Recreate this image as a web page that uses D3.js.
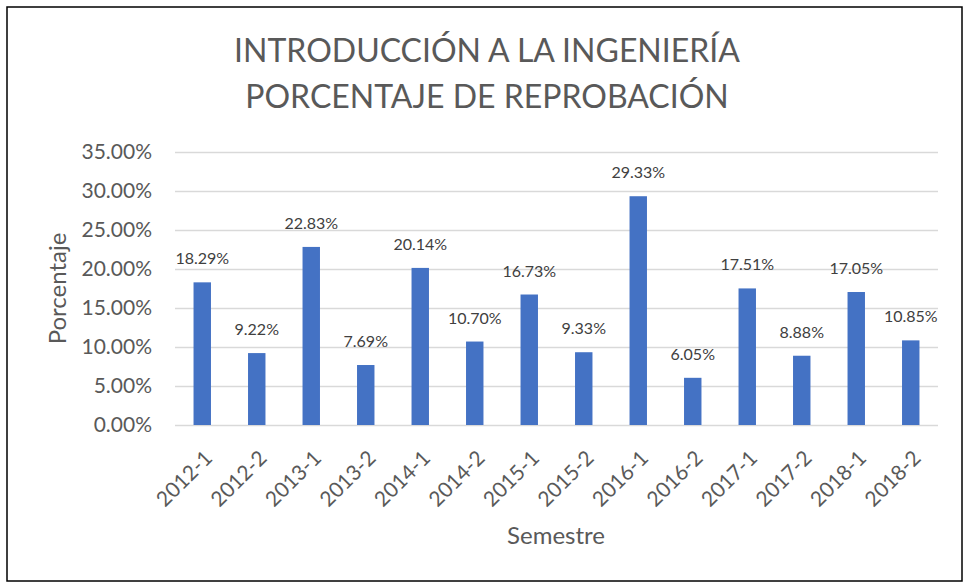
<!DOCTYPE html>
<html>
<head>
<meta charset="utf-8">
<script src="https://cdn.jsdelivr.net/npm/d3@7"></script>
<style>
  html, body { margin: 0; padding: 0; background: #fff; }
  svg { display: block; font-family: Lato, "Open Sans", sans-serif; }
</style>
</head>
<body>
<div id="chart"></div>
<script>
// semesters and failure rate (%)
const semesters = ["2012-1", "2012-2", "2013-1", "2013-2", "2014-1", "2014-2", "2015-1",
  "2015-2", "2016-1", "2016-2", "2017-1", "2017-2", "2018-1", "2018-2"];
const rates = [18.29, 9.22, 22.83, 7.69, 20.14, 10.70, 16.73, 9.33, 29.33, 6.05, 17.51, 8.88, 17.05, 10.85];
const yTicks = [0, 5, 10, 15, 20, 25, 30, 35];
const titleLines = ["INTRODUCCIÓN A LA INGENIERÍA", "PORCENTAJE DE REPROBACIÓN"];

(function () {
  const width = 967, height = 583;
  const margin = {top: 152, right: 29, bottom: 158, left: 175};

  const data = semesters.map((s, i) => ({sem: s, value: rates[i]}));

  const svg = d3.select("#chart").append("svg")
    .attr("width", width)
    .attr("height", height);

  // outer frame
  svg.append("rect")
    .attr("x", 7).attr("y", 7)
    .attr("width", 955).attr("height", 574)
    .attr("fill", "#fff")
    .attr("stroke", "#000")
    .attr("stroke-width", 1.5);

  const x = d3.scaleBand()
    .domain(semesters)
    .range([margin.left, width - margin.right])
    .paddingInner(0.68)
    .paddingOuter(0.34);

  const y = d3.scaleLinear()
    .domain([0, 35])
    .range([height - margin.bottom, margin.top]);

  // gridlines
  svg.append("g")
    .selectAll("line")
    .data(yTicks)
    .enter().append("line")
    .attr("x1", margin.left)
    .attr("x2", width - margin.right)
    .attr("y1", d => y(d) + 0.5)
    .attr("y2", d => y(d) + 0.5)
    .attr("stroke", "#d9d9d9")
    .attr("stroke-width", 1.3);

  // y tick labels
  svg.append("g")
    .selectAll("text")
    .data(yTicks)
    .enter().append("text")
    .attr("x", 152)
    .attr("y", d => y(d))
    .attr("dy", "0.35em")
    .attr("text-anchor", "end")
    .attr("fill", "#595959")
    .style("font-size", "21px")
    .text(d => d.toFixed(2) + "%");

  // bars
  svg.append("g")
    .selectAll("rect")
    .data(data)
    .enter().append("rect")
    .attr("x", d => x(d.sem))
    .attr("y", d => y(d.value))
    .attr("width", x.bandwidth())
    .attr("height", d => y(0) - y(d.value))
    .attr("fill", "#4472c4");

  // value labels
  svg.append("g")
    .selectAll("text")
    .data(data)
    .enter().append("text")
    .attr("x", d => x(d.sem) + x.bandwidth() / 2)
    .attr("y", d => y(d.value) - 18)
    .attr("text-anchor", "middle")
    .attr("fill", "#404040")
    .style("font-size", "16px")
    .text(d => d.value.toFixed(2) + "%");

  // x tick labels, rotated
  svg.append("g")
    .selectAll("text")
    .data(semesters)
    .enter().append("text")
    .attr("transform", d => "translate(" + (x(d) + x.bandwidth() / 2 + 1) + "," + (y(0) + 24) + ") rotate(-45)")
    .attr("text-anchor", "end")
    .attr("dy", "0.7em")
    .attr("fill", "#595959")
    .style("font-size", "21px")
    .text(d => d);

  // axis titles
  svg.append("text")
    .attr("transform", "translate(66," + ((margin.top + height - margin.bottom) / 2) + ") rotate(-90)")
    .attr("text-anchor", "middle")
    .attr("fill", "#595959")
    .style("font-size", "24px")
    .text("Porcentaje");

  svg.append("text")
    .attr("x", 556)
    .attr("y", 544)
    .attr("text-anchor", "middle")
    .attr("fill", "#595959")
    .style("font-size", "24px")
    .text("Semestre");

  // title
  svg.append("g")
    .selectAll("text")
    .data(titleLines)
    .enter().append("text")
    .attr("x", 487)
    .attr("y", (d, i) => 62 + i * 46)
    .attr("text-anchor", "middle")
    .attr("fill", "#595959")
    .style("font-size", "32px")
    .text(d => d);
})();
</script>
</body>
</html>
